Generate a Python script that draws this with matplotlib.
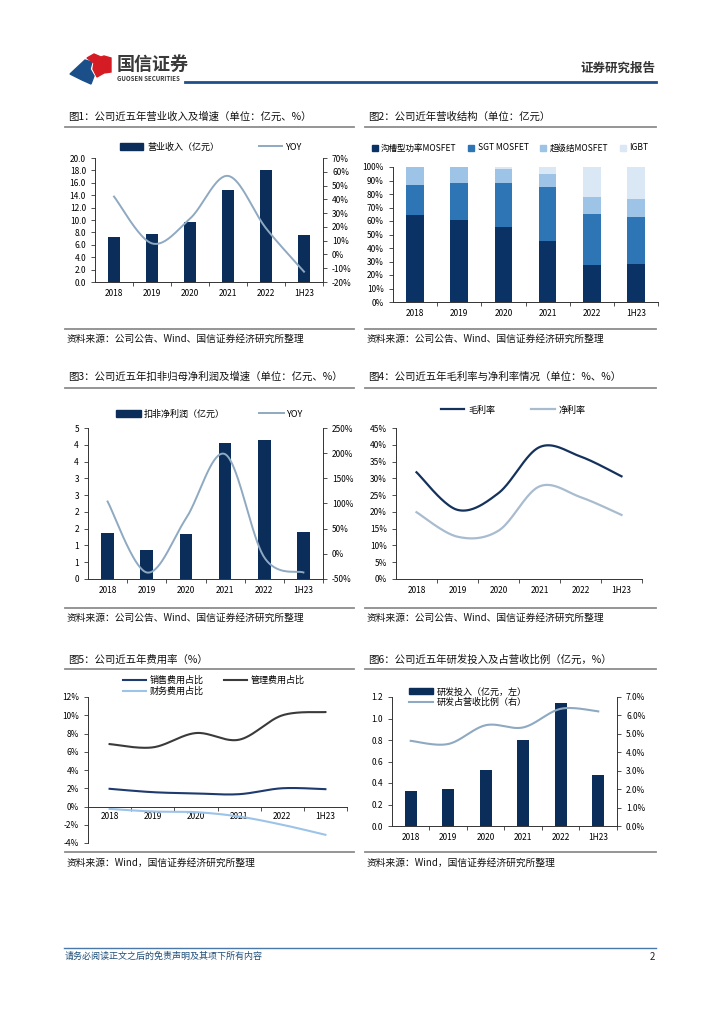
import numpy as np
import matplotlib
matplotlib.use("Agg")
import matplotlib.pyplot as plt
from matplotlib.lines import Line2D
from matplotlib.patches import Polygon, Patch
from matplotlib.ticker import FuncFormatter, FixedLocator

plt.rcParams['font.family'] = ['Noto Sans CJK SC', 'DejaVu Sans']
plt.rcParams['axes.unicode_minus'] = False

# ---------------- data ----------------
years = ["2018", "2019", "2020", "2021", "2022", "1H23"]

rev = [7.2, 7.7, 9.6, 14.9, 18.1, 7.6]
rev_yoy = [42, 8, 26, 57, 19, -12.5]

trench = [64.5, 60.5, 55.5, 45.0, 27.5, 28.0]
sgt = [22.5, 28.0, 32.5, 40.0, 38.0, 35.0]
sj = [13.0, 11.5, 10.5, 9.5, 12.0, 13.0]
igbt = [0.0, 0.0, 1.5, 5.5, 22.5, 24.0]
mix_names = ["沟槽型功率MOSFET", "SGT MOSFET", "超级结MOSFET", "IGBT"]

np_ded = [1.38, 0.87, 1.35, 4.04, 4.14, 1.39]
np_yoy = [104, -37, 70, 198, -7, -37]
np_ticks = [0, 0.5, 1, 1.5, 2, 2.5, 3, 3.5, 4, 4.5]
np_ticklabels = ["0", "1", "1", "2", "2", "3", "3", "4", "4", "5"]

gross = [31.8, 20.6, 25.6, 39.3, 36.5, 30.6]
netm = [19.9, 12.6, 14.4, 27.6, 24.4, 19.1]

sell = [1.94, 1.57, 1.43, 1.35, 2.0, 1.9]
admin = [6.84, 6.48, 8.05, 7.32, 9.99, 10.35]
fin = [-0.26, -0.55, -0.62, -1.1, -2.0, -3.1]

rd = [0.33, 0.345, 0.517, 0.80, 1.143, 0.47]
rd_ratio = [4.62, 4.45, 5.47, 5.35, 6.36, 6.22]

# ---------------- helpers ----------------
W, H = 724, 1024
fig = plt.figure(figsize=(W / 100, H / 100), dpi=100)

def fx(x):
    return x / W

def fy(y):
    return 1 - y / H

def axrect(x0, y0, x1, y1):
    return fig.add_axes([fx(x0), fy(y1), (x1 - x0) / W, (y1 - y0) / H])

def hline(x0, x1, y, color, lw):
    fig.add_artist(Line2D([fx(x0), fx(x1)], [fy(y), fy(y)], color=color, lw=lw,
                          transform=fig.transFigure))

def smooth(y, n=40):
    x = np.arange(len(y), dtype=float)
    pts = np.column_stack([x, np.asarray(y, float)])
    ext = np.vstack([pts[0], pts, pts[-1]])
    out = []
    t = np.linspace(0, 1, n)[:, None]
    for i in range(len(pts) - 1):
        p0, p1, p2, p3 = ext[i], ext[i + 1], ext[i + 2], ext[i + 3]
        c1 = p1 + (p2 - p0) / 6
        c2 = p2 - (p3 - p1) / 6
        seg = (1 - t) ** 3 * p1 + 3 * (1 - t) ** 2 * t * c1 + 3 * (1 - t) * t ** 2 * c2 + t ** 3 * p2
        out.append(seg)
    s = np.vstack(out)
    return s[:, 0], s[:, 1]

NAVY = '#0b2d5a'
YOYC = '#8ea9c1'
TICK_FS = 6
LEG_FS = 6.5
GRID_C = '#333333'

def cat_axis(ax, ticks_between=True):
    n = len(years)
    ax.set_xlim(-0.5, n - 0.5)
    ax.set_xticks(range(n))
    ax.set_xticklabels(years, fontsize=TICK_FS)
    ax.tick_params(axis='x', length=0, pad=5)
    if ticks_between:
        ax.set_xticks(np.arange(0.5, n, 1.0), minor=True)
        ax.tick_params(axis='x', which='minor', length=3, width=0.6, direction='out', color=GRID_C)
    for s in ['top', 'right']:
        ax.spines[s].set_visible(False)
    for s in ['left', 'bottom']:
        ax.spines[s].set_linewidth(0.7)
        ax.spines[s].set_color(GRID_C)
    ax.tick_params(axis='y', labelsize=TICK_FS, length=3, width=0.6, color=GRID_C)
    ax.set_facecolor('none')

def right_axis(ax):
    ax2 = ax.twinx()
    for s in ['top', 'left', 'bottom']:
        ax2.spines[s].set_visible(False)
    ax2.spines['right'].set_linewidth(0.7)
    ax2.spines['right'].set_color(GRID_C)
    ax2.tick_params(axis='y', labelsize=TICK_FS, length=3, width=0.6, color=GRID_C)
    return ax2

def panel_frame(x0, x1, title, ytitle, yline, src, ysrcline, ysrc):
    fig.text(fx(x0 + 3), fy(ytitle), title, fontsize=7.5, va='center', ha='left', color='#111111')
    hline(x0, x1, yline, '#8c8c8c', 1.3)
    hline(x0, x1, ysrcline, '#8c8c8c', 1.3)
    fig.text(fx(x0 + 2), fy(ysrc), src, fontsize=7, va='center', ha='left', color='#111111')

SRC1 = "资料来源：公司公告、Wind、国信证券经济研究所整理"
SRC2 = "资料来源：Wind，国信证券经济研究所整理"

# ---------------- header / footer ----------------
fig.add_artist(Polygon([(fx(70), fy(74)), (fx(85), fy(60)), (fx(92), fy(62)), (fx(90), fy(69)),
                        (fx(94), fy(76)), (fx(91), fy(84)), (fx(82), fy(80))],
                       closed=True, color='#1b4f8a', transform=fig.transFigure))
fig.add_artist(Polygon([(fx(87), fy(58)), (fx(94), fy(54)), (fx(101), fy(57)), (fx(104), fy(56)),
                        (fx(111), fy(58)), (fx(111), fy(72)), (fx(104), fy(73)), (fx(97), fy(77)),
                        (fx(93), fy(69)), (fx(94), fy(63))],
                       closed=True, color='#d51c24', transform=fig.transFigure))
fig.text(fx(117), fy(64), "国信证券", fontsize=13, fontweight='bold', color='#3a3a3a', va='center', ha='left')
fig.text(fx(117), fy(78.5), "GUOSEN SECURITIES", fontsize=4.4, fontweight='bold', color='#3a3a3a', va='center', ha='left')
fig.text(fx(655), fy(68), "证券研究报告", fontsize=9, fontweight='bold', color='#333333', va='center', ha='right')
hline(185, 656, 82, '#1f4e8c', 2.0)

hline(64, 656, 948, '#4a78a8', 1.0)
fig.text(fx(65), fy(956), "请务必阅读正文之后的免责声明及其项下所有内容", fontsize=6.5, style='italic',
         color='#1f4e79', va='center', ha='left')
fig.text(fx(655), fy(957), "2", fontsize=7, color='#222222', va='center', ha='right')

# ---------------- panels ----------------
panel_frame(65, 354, "图1：公司近五年营业收入及增速（单位：亿元、%）", 117, 127, SRC1, 329, 339)
panel_frame(365, 656, "图2：公司近年营收结构（单位：亿元）", 117, 127, SRC1, 329, 339)
panel_frame(65, 354, "图3：公司近五年扣非归母净利润及增速（单位：亿元、%）", 377, 388, SRC1, 608, 618)
panel_frame(365, 656, "图4：公司近五年毛利率与净利率情况（单位：%、%）", 377, 388, SRC1, 608, 618)
panel_frame(65, 354, "图5：公司近五年费用率（%）", 660, 669, SRC2, 852, 863)
panel_frame(365, 656, "图6：公司近五年研发投入及占营收比例（亿元，%）", 660, 669, SRC2, 852, 863)

x = np.arange(len(years))

# ---- Chart 1 ----
ax = axrect(95, 158, 323, 282)
cat_axis(ax)
ax.bar(x, rev, width=0.32, color=NAVY, label="营业收入（亿元）", zorder=2)
ax.set_ylim(0, 20)
ax.set_yticks(np.arange(0, 20.1, 2))
ax.yaxis.set_major_formatter(FuncFormatter(lambda v, p: f"{v:.1f}"))
ax2 = right_axis(ax)
sx, sy = smooth(rev_yoy)
ax2.plot(sx, sy, color=YOYC, lw=1.4, label="YOY")
ax2.set_ylim(-20, 70)
ax2.set_yticks(np.arange(-20, 71, 10))
ax2.yaxis.set_major_formatter(FuncFormatter(lambda v, p: f"{v:.0f}%"))
h = [Patch(color=NAVY), Line2D([], [], color=YOYC, lw=1.4)]
fig.legend(h, ["营业收入（亿元）", "YOY"], loc='center', bbox_to_anchor=(fx(211), fy(147)),
           ncol=2, frameon=False, fontsize=LEG_FS, handlelength=2.6, handleheight=0.7,
           columnspacing=4.4, handletextpad=0.4)

# ---- Chart 2 ----
ax = axrect(393, 167, 658, 302)
cat_axis(ax)
cols2 = ['#0a3264', '#2e75b6', '#9dc3e6', '#dae7f5']
bottom = np.zeros(len(years))
for vals, c, nm in zip([trench, sgt, sj, igbt], cols2, mix_names):
    ax.bar(x, vals, bottom=bottom, width=0.4, color=c, label=nm, zorder=2)
    bottom += np.array(vals)
ax.set_ylim(0, 100)
ax.set_yticks(np.arange(0, 101, 10))
ax.yaxis.set_major_formatter(FuncFormatter(lambda v, p: f"{v:.0f}%"))
h = [Patch(color=c) for c in cols2]
fig.legend(h, mix_names, loc='center', bbox_to_anchor=(fx(510), fy(148)), ncol=4, frameon=False,
           fontsize=6.1, handlelength=0.7, handleheight=0.7, columnspacing=1.4, handletextpad=0.4)

# ---- Chart 3 ----
ax = axrect(88, 428, 323, 579)
cat_axis(ax)
ax.bar(x, np_ded, width=0.32, color=NAVY, zorder=2)
ax.set_ylim(0, 4.5)
ax.yaxis.set_major_locator(FixedLocator(np_ticks))
ax.set_yticklabels(np_ticklabels)
ax2 = right_axis(ax)
sx, sy = smooth(np_yoy)
ax2.plot(sx, sy, color=YOYC, lw=1.4)
ax2.set_ylim(-50, 250)
ax2.set_yticks(np.arange(-50, 251, 50))
ax2.yaxis.set_major_formatter(FuncFormatter(lambda v, p: f"{v:.0f}%"))
h = [Patch(color=NAVY), Line2D([], [], color=YOYC, lw=1.4)]
fig.legend(h, ["扣非净利润（亿元）", "YOY"], loc='center', bbox_to_anchor=(fx(210), fy(414)),
           ncol=2, frameon=False, fontsize=LEG_FS, handlelength=2.7, handleheight=0.7,
           columnspacing=3.8, handletextpad=0.4)

# ---- Chart 4 ----
ax = axrect(396, 428, 642, 579)
cat_axis(ax)
sx, sy = smooth(gross)
ax.plot(sx, sy, color='#14325c', lw=1.6)
sx, sy = smooth(netm)
ax.plot(sx, sy, color='#a9bccf', lw=1.6)
ax.set_ylim(0, 45)
ax.set_yticks(np.arange(0, 46, 5))
ax.yaxis.set_major_formatter(FuncFormatter(lambda v, p: f"{v:.0f}%"))
h = [Line2D([], [], color='#14325c', lw=1.6), Line2D([], [], color='#a9bccf', lw=1.6)]
fig.legend(h, ["毛利率", "净利率"], loc='center', bbox_to_anchor=(fx(513), fy(410)),
           ncol=2, frameon=False, fontsize=LEG_FS, handlelength=2.6,
           columnspacing=4.0, handletextpad=0.4)

# ---- Chart 5 ----
ax = axrect(88, 697, 347, 843)
ax.spines['bottom'].set_position(('data', 0))
cat_axis(ax)
ax.set_xticks(np.arange(0.5, len(years) + 0.5, 1.0), minor=True)
ax.tick_params(axis='x', which='major', pad=4, labelsize=TICK_FS)
c_sell, c_admin, c_fin = '#1f3b6e', '#3a3a3a', '#9cc4e8'
sx, sy = smooth(sell)
ax.plot(sx, sy, color=c_sell, lw=1.5)
sx, sy = smooth(admin)
ax.plot(sx, sy, color=c_admin, lw=1.5)
sx, sy = smooth(fin)
ax.plot(sx, sy, color=c_fin, lw=1.5)
ax.set_ylim(-4, 12)
ax.set_yticks(np.arange(-4, 12.1, 2))
ax.yaxis.set_major_formatter(FuncFormatter(lambda v, p: f"{v:.0f}%"))
h = [Line2D([], [], color=c_sell, lw=1.5), Line2D([], [], color=c_fin, lw=1.5),
     Line2D([], [], color=c_admin, lw=1.5)]
fig.legend(h, ["销售费用占比", "财务费用占比", "管理费用占比"], loc='center',
           bbox_to_anchor=(fx(214), fy(686)), ncol=2, frameon=False, fontsize=LEG_FS,
           handlelength=2.6, columnspacing=2.2, handletextpad=0.4, labelspacing=0.15)

# ---- Chart 6 ----
ax = axrect(392, 697, 617, 826)
cat_axis(ax)
ax.bar(x, rd, width=0.33, color=NAVY, zorder=2)
ax.set_ylim(0, 1.2)
ax.set_yticks(np.arange(0, 1.21, 0.2))
ax.yaxis.set_major_formatter(FuncFormatter(lambda v, p: f"{v:.1f}"))
ax2 = right_axis(ax)
sx, sy = smooth(rd_ratio)
ax2.plot(sx, sy, color=YOYC, lw=1.5)
ax2.set_ylim(0, 7)
ax2.set_yticks(np.arange(0, 7.1, 1))
ax2.yaxis.set_major_formatter(FuncFormatter(lambda v, p: f"{v:.1f}%"))
h = [Patch(color=NAVY), Line2D([], [], color=YOYC, lw=1.5)]
fig.legend(h, ["研发投入（亿元，左）", "研发占营收比例（右）"], loc='upper left',
           bbox_to_anchor=(fx(403), fy(681)), ncol=1, frameon=False, fontsize=LEG_FS,
           handlelength=2.6, handleheight=0.7, handletextpad=0.4, labelspacing=0.15,
           borderpad=0.2)

fig.savefig("out.png", dpi=100)
